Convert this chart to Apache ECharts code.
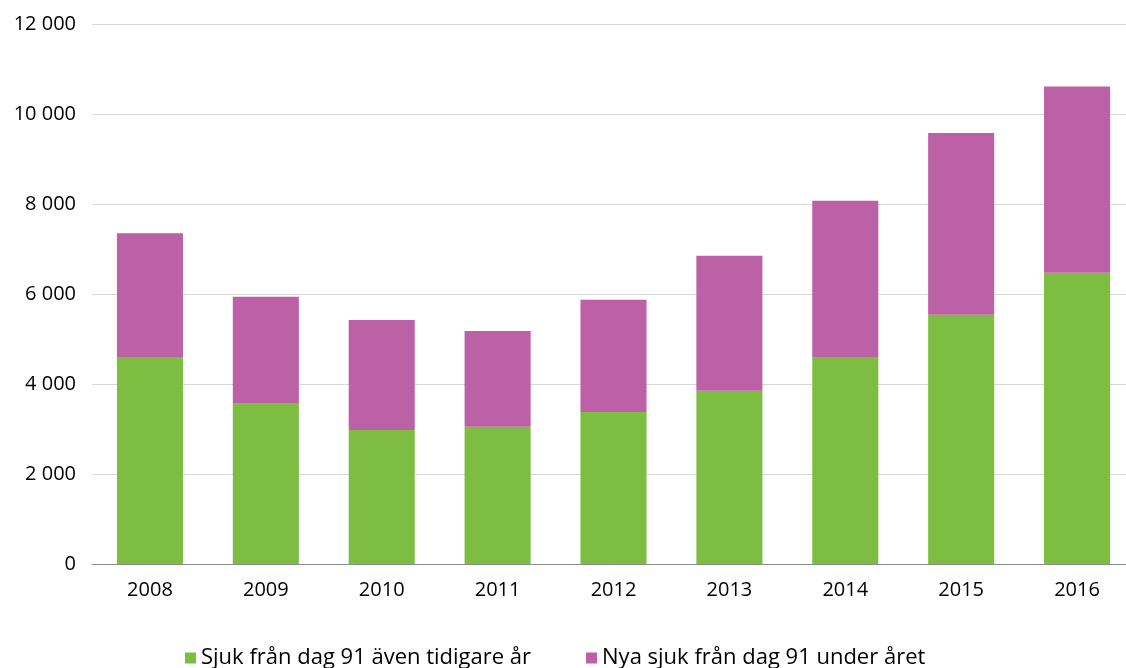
<!DOCTYPE html>
<html><head><meta charset="utf-8">
<script src="https://cdn.jsdelivr.net/npm/echarts@6/dist/echarts.min.js"></script>
<style>html,body{margin:0;padding:0;background:#fff;overflow:hidden}#c{width:1140px;height:668px}</style>
</head><body><div id="c"></div>
<script>
const years = ['2008','2009','2010','2011','2012','2013','2014','2015','2016'];
const tidigare = [4600, 3580, 2980, 3050, 3380, 3850, 4600, 5540, 6470];
const nya = [2750, 2360, 2440, 2130, 2490, 3000, 3470, 4040, 4140];
const seriesNames = ['Sjuk från dag 91 även tidigare år', 'Nya sjuk från dag 91 under året'];
const colors = ['#7DBE42', '#BC61A5'];
const font = '"Open Sans", Lato, sans-serif';
const chart = echarts.init(document.getElementById('c'));
chart.setOption({
  animation: false,
  grid: {left: 92, top: 24, width: 1043, height: 540, containLabel: false},
  legend: {
    top: 642, left: 180, itemWidth: 11, itemHeight: 11, itemGap: 55,
    icon: 'rect',
    textStyle: {fontFamily: font, fontSize: 22, color: '#000'},
    data: seriesNames
  },
  xAxis: {
    type: 'category', data: years,
    axisLine: {lineStyle: {color: '#8c8c8c'}},
    axisTick: {length: 6, lineStyle: {color: '#8c8c8c'}},
    axisLabel: {fontFamily: font, fontSize: 20, color: '#000', margin: 16}
  },
  yAxis: {
    type: 'value', min: 0, max: 12000, interval: 2000,
    axisLine: {show: false}, axisTick: {show: false},
    splitLine: {lineStyle: {color: '#d9d9d9'}},
    axisLabel: {fontFamily: font, fontSize: 20, color: '#000', margin: 16,
      formatter: v => v >= 1000 ? Math.floor(v/1000) + ' ' + String(v%1000).padStart(3,'0') : String(v)}
  },
  series: [
    {name: seriesNames[0], type: 'bar', stack: 's', data: tidigare, barWidth: '57%', itemStyle: {color: colors[0]}},
    {name: seriesNames[1], type: 'bar', stack: 's', data: nya, barWidth: '57%', itemStyle: {color: colors[1]}}
  ]
});
</script></body></html>
